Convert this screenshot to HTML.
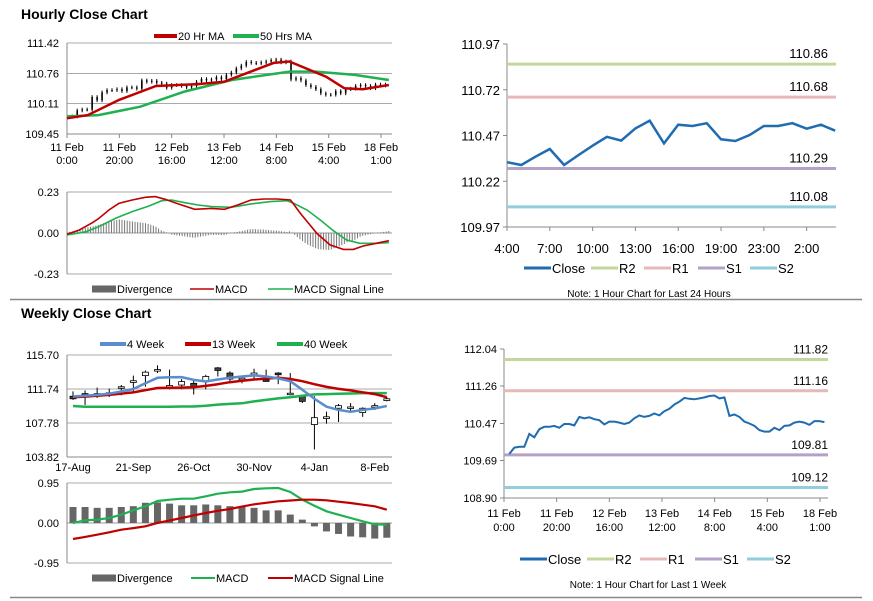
<!DOCTYPE html>
<html><head><meta charset="utf-8"><style>
html,body{margin:0;padding:0;background:#fff;}
svg{display:block;font-family:"Liberation Sans",Arial,sans-serif;}
.t{font-size:11px;fill:#000;}
.n{font-family:"Liberation Sans Narrow","Liberation Sans",sans-serif;font-size:13px;fill:#000;}
.h{font-size:14px;font-weight:bold;fill:#000;}
</style></head><body>
<svg id="root" width="873" height="601" viewBox="0 0 873 601" xmlns="http://www.w3.org/2000/svg">
<text x="21" y="19" class="h">Hourly Close Chart</text>
<text x="21" y="318" class="h">Weekly Close Chart</text>
<line x1="10" y1="299.5" x2="862" y2="299.5" stroke="#888" stroke-width="1.5"/>
<line x1="10" y1="597.5" x2="862" y2="597.5" stroke="#888" stroke-width="1.5"/>
<g id="g"></g>
</svg>
<script>
// ---- data ----
const hourlyClose=[109.83,109.96,109.98,109.98,110.25,110.18,110.35,110.40,110.40,110.42,110.38,110.46,110.46,110.43,110.61,110.58,110.60,110.56,110.54,110.45,110.51,110.51,110.49,110.46,110.49,110.58,110.64,110.61,110.63,110.68,110.64,110.73,110.78,110.87,110.93,111.01,110.99,110.98,111.00,111.02,111.05,111.06,111.00,111.02,110.63,110.66,110.61,110.51,110.47,110.42,110.33,110.30,110.30,110.38,110.33,110.42,110.43,110.49,110.51,110.49,110.44,110.52,110.52,110.50];
const hourTicks=["11 Feb|0:00","11 Feb|20:00","12 Feb|16:00","13 Feb|12:00","14 Feb|8:00","15 Feb|4:00","18 Feb|1:00"];
const ma20Hours=[0,8,20,34,50,60,79,85,99,106,113,123];
const ma20=[109.79,109.86,110.19,110.49,110.53,110.58,110.99,111.02,110.69,110.44,110.42,110.51];
const ma50Hours=[0,12,28,45,63,85,95,110,123];
const ma50=[109.83,109.86,110.04,110.37,110.62,110.80,110.80,110.73,110.62];
const macdHours=[0,4.7,9.7,12.2,16,19.8,24.9,29.9,33.7,37.5,42.5,48.8,55.1,60.2,65.2,70.3,75.3,80.4,85.4,89.2,95.5,100.5,105.6,109.4,113.2,118.2,123];
const macdH=[-0.007,0.017,0.058,0.082,0.129,0.166,0.185,0.200,0.204,0.189,0.163,0.133,0.138,0.133,0.157,0.185,0.191,0.191,0.185,0.110,-0.002,-0.067,-0.092,-0.092,-0.073,-0.058,-0.043];
const sigHours=[0,7.2,12.2,18.5,24.9,31.2,36.2,40,45,50.1,55.1,62.7,70.3,77.8,84.1,86.7,91.7,96.8,101.8,106.8,111.9,118.2,123];
const sigH=[-0.011,0.007,0.036,0.082,0.120,0.151,0.181,0.185,0.170,0.157,0.148,0.144,0.163,0.176,0.181,0.166,0.129,0.073,0.013,-0.039,-0.058,-0.058,-0.054];
const dayClose=[110.324,110.309,110.354,110.396,110.309,110.363,110.414,110.463,110.442,110.509,110.551,110.427,110.529,110.522,110.537,110.449,110.440,110.473,110.522,110.522,110.537,110.507,110.529,110.496];
const dayTicks=["4:00","7:00","10:00","13:00","16:00","19:00","23:00","2:00"];
const dayTickIdx=[0,3,6,9,12,15,18,21];
const dayLevels=[110.86,110.68,110.29,110.08];
const weekLevels=[111.82,111.16,109.81,109.12];
const levelNames=["R2","R1","S1","S2"];
const wOpen=[110.9,111.2,111.2,111.3,111.9,112.5,113.3,113.9,112.1,112.2,112.4,112.6,114.2,113.6,112.9,113.4,112.8,113.6,111.2,110.9,107.6,108.3,109.5,109.6,109.0,109.7,110.4];
const wClose=[110.6,111.1,111.2,111.3,112.0,112.7,113.7,114.0,112.15,112.6,112.0,113.2,113.9,112.9,113.0,113.6,112.7,113.4,111.25,110.3,108.4,108.5,109.8,109.65,109.5,109.8,110.6];
const wHigh=[111.46,111.58,111.9,111.8,112.2,113.3,113.9,114.5,114.0,112.9,112.9,113.4,114.3,113.8,113.2,114.1,114.0,113.7,113.6,111.0,110.9,109.1,110.0,110.1,109.6,110.1,110.8];
const wLow=[110.47,109.88,110.7,110.8,111.0,111.4,112.0,113.6,111.7,111.7,111.1,111.7,113.2,112.4,112.4,112.8,112.6,112.3,111.0,110.1,104.7,107.7,107.9,109.0,108.5,109.3,110.3];
const wk4=[110.87,110.95,111.05,111.19,111.45,111.74,112.4,113.05,113.1,113.13,112.8,112.61,112.85,113.05,113.2,113.32,113.2,112.97,112.65,111.66,110.6,109.68,109.3,109.09,109.3,109.48,109.76];
const wk13=[110.79,110.85,110.95,111.05,111.2,111.34,111.6,111.86,111.88,111.9,111.94,112.1,112.3,112.53,112.7,112.85,112.95,113.05,112.9,112.65,112.3,111.98,111.75,111.58,111.35,111.15,110.79];
const wk40=[109.76,109.68,109.68,109.68,109.68,109.68,109.68,109.68,109.68,109.7,109.7,109.8,109.92,110.0,110.08,110.3,110.47,110.65,110.79,110.95,111.11,111.15,111.19,111.22,111.26,111.26,111.26];
const wDiv=[0.38,0.38,0.36,0.36,0.38,0.40,0.48,0.49,0.46,0.42,0.42,0.44,0.42,0.40,0.38,0.36,0.30,0.30,0.20,0.08,-0.08,-0.20,-0.26,-0.32,-0.34,-0.37,-0.35];
const wMacd=[0,0.063,0.079,0.119,0.198,0.301,0.396,0.523,0.554,0.578,0.578,0.634,0.697,0.729,0.745,0.808,0.824,0.832,0.737,0.554,0.412,0.277,0.198,0.119,0.040,-0.032,-0.040];
const wSig=[-0.380,-0.33,-0.277,-0.22,-0.158,-0.12,-0.079,0,0.06,0.119,0.18,0.238,0.29,0.333,0.39,0.444,0.48,0.515,0.535,0.554,0.554,0.539,0.507,0.475,0.435,0.396,0.317];
const weekTicks=["17-Aug","21-Sep","26-Oct","30-Nov","4-Jan","8-Feb"];
const weekTickIdx=[0,5,10,15,20,25];

// ---- helpers ----
const NS="http://www.w3.org/2000/svg";
const G=document.getElementById('g');
function mk(tag,a){const e=document.createElementNS(NS,tag);for(const k in a)e.setAttribute(k,a[k]);G.appendChild(e);return e;}
function pts(xs,ys){return xs.map((x,i)=>x.toFixed(1)+','+ys[i].toFixed(1)).join(' ');}
function interp(hs,vs,h){for(let i=1;i<hs.length;i++){if(h<=hs[i]){const t=(h-hs[i-1])/(hs[i]-hs[i-1]);return vs[i-1]+t*(vs[i]-vs[i-1]);}}return vs[vs.length-1];}
const C={red:"#c00000",green:"#1fb050",blue:"#1f6cb0",lblue:"#5b8ccc",r2:"#c4d79b",r1:"#e6b9b8",s1:"#b3a2c7",s2:"#93cddd",grid:"#aaa",div:"#777"};
const lvlColors=[C.r2,C.r1,C.s1,C.s2];

// scales
const xH=h=>67+h*2.617;
const yP=v=>43+(111.42-v)/1.97*91;
const yM=v=>233-v/0.23*41;
const closeHour=k=>2+k*1.9;
const xR=i=>507+i*14.27;
const yR=v=>44+(110.97-v)*183;
const xB=h=>504+h*2.633;
const yB=v=>349+(112.04-v)/3.14*149;
const xW=i=>73+i*12.07;
const yW=v=>389+(111.74-v)*34/3.96;
const yWM=v=>523-v*42.1;

function hline(x1,x2,y,col,w){const e=mk('line',{x1:x1,x2:x2,y1:y,y2:y,stroke:col,'stroke-width':w||1});return e;}
function vline(x,y1,y2,col,w){const e=mk('line',{x1:x,x2:x,y1:y1,y2:y2,stroke:col,'stroke-width':w||1});return e;}
function txt(x,y,s,cls,anchor){const e=mk('text',{x:x,y:y,class:cls,'text-anchor':anchor||'start'});e.textContent=s;return e;}

// ===== Top-left price panel =====
[111.42,110.76,110.11].forEach(v=>{const e=hline(67,392,yP(v),C.grid);

});
["111.42","110.76","110.11","109.45"].forEach(s=>{const e=txt(59,yP(+s)+4,s,'t','end');

});
{const e=vline(67,43,134,'#888');

}
{const e=hline(67,392,134,'#888');

}
hourTicks.forEach((s,i)=>{const x=xH(i*20);const p=s.split('|');
const tk=vline(x,134,138,'#888');


const a=txt(x,151,p[0],'t','middle');


const b=txt(x,164,p[1],'t','middle');

});
// candles
hourlyClose.forEach((v,k)=>{const pv=k?hourlyClose[k-1]:v;const x=xH(closeHour(k));
const hi=Math.max(v,pv)+0.04,lo=Math.min(v,pv)-0.04;
const e=vline(x,yP(hi),yP(lo),'#000',1);


const f=mk('rect',{x:x-0.8,y:Math.min(yP(v),yP(pv)),width:1.6,height:Math.max(1,Math.abs(yP(v)-yP(pv))),fill:'#000'});

});
{const e=mk('polyline',{points:pts(ma50Hours.map(xH),ma50.map(yP)),fill:'none',stroke:C.green,'stroke-width':2.5});

}
{const e=mk('polyline',{points:pts(ma20Hours.map(xH),ma20.map(yP)),fill:'none',stroke:C.red,'stroke-width':2.5});

}
// legend
function legLine(x1,x2,y,col,w,label,name){
const l=mk('line',{x1:x1,x2:x2,y1:y,y2:y,stroke:col,'stroke-width':w});


const t=txt(x2+1,y+4,label,'t');

}
legLine(154,177,36,C.red,4,"20 Hr MA","legend-ma20");
legLine(233,259,36,C.green,4,"50 Hrs MA","legend-ma50");

// ===== Top-left MACD =====
[0.23,-0.23].forEach(v=>{const e=hline(67,392,yM(v),C.grid);

});
{const e=hline(67,392,yM(0),'#999');

}
{const e=vline(67,192,274,'#888');

}
["0.23","0.00","-0.23"].forEach(s=>{const e=txt(59,yM(+s)+4,s,'t','end');

});
for(let h=0;h<=123;h+=1){const d=interp(macdHours,macdH,h)-interp(sigHours,sigH,h);
const e=vline(xH(h),yM(0),yM(d),C.div,1);

}
{const e=mk('polyline',{points:pts(sigHours.map(xH),sigH.map(yM)),fill:'none',stroke:C.green,'stroke-width':1.6});

}
{const e=mk('polyline',{points:pts(macdHours.map(xH),macdH.map(yM)),fill:'none',stroke:C.red,'stroke-width':1.6});

}
legLine(92,116,289,'#666',7,"Divergence","legend-hourly-divergence");
legLine(190,214,289,C.red,1.6,"MACD","legend-hourly-macd");
legLine(268,293,289,C.green,1.6,"MACD Signal Line","legend-hourly-signal");

// ===== Top-right 24h =====
{const e=vline(507,44,227,'#888');

}
{const e=hline(507,836,227,'#888');

}
["110.97","110.72","110.47","110.22","109.97"].forEach(s=>{const e=txt(500,yR(+s)+5,s,'n','end');


const t=hline(503,507,yR(+s),'#888');

});
dayTicks.forEach((s,i)=>{const x=xR(dayTickIdx[i]);
const t=vline(x,227,231,'#888');


const e=txt(x,253,s,'n','middle');

});
dayLevels.forEach((v,i)=>{const e=hline(507,836,yR(v),lvlColors[i],3);


const t=txt(828,yR(v)-6,v.toFixed(2),'n','end');

});
{const e=mk('polyline',{points:pts(dayClose.map((v,i)=>xR(i)),dayClose.map(yR)),fill:'none',stroke:C.blue,'stroke-width':2.5});

}
function rightLegend(y,xs,note,noteX,pref){
const labels=["Close"].concat(levelNames);const cols=[C.blue].concat(lvlColors);
labels.forEach((s,i)=>{const l=mk('line',{x1:xs[i],x2:xs[i]+27,y1:y,y2:y,stroke:cols[i],'stroke-width':3});


const t=txt(xs[i]+28,y+5,s,'n');

});
const n=mk('text',{x:noteX,y:y+29,'text-anchor':'middle',style:'font-size:10px;font-family:"Liberation Sans Narrow","Liberation Sans",sans-serif'});
n.textContent=note;

}
rightLegend(268,[524,591,644,698,750],"Note: 1 Hour Chart for Last 24 Hours",649,'day');

// ===== Bottom-right week =====
{const e=vline(504,349,498,'#888');

}
{const e=hline(504,828,498,'#888');

}
["112.04","111.26","110.47","109.69","108.90"].forEach(s=>{const e=txt(497,yB(+s)+4,s,'t','end');


const t=hline(500,504,yB(+s),'#888');

});
hourTicks.forEach((s,i)=>{const x=xB(i*20);const p=s.split('|');
const tk=vline(x,498,502,'#888');


const a=txt(x,517,p[0],'t','middle');


const b=txt(x,531,p[1],'t','middle');

});
weekLevels.forEach((v,i)=>{const e=hline(504,828,yB(v),lvlColors[i],3);


const t=txt(828,yB(v)-6,v.toFixed(2),'t','end');
t.setAttribute('style','font-size:12px');

});
{const e=mk('polyline',{points:pts(hourlyClose.map((v,k)=>xB(closeHour(k))),hourlyClose.map(yB)),fill:'none',stroke:C.blue,'stroke-width':2});

}
rightLegend(559,[520,587,640,695,747],"Note: 1 Hour Chart for Last 1 Week",648,'week');

// ===== Bottom-left weekly candles =====
[115.70,111.74,107.78].forEach(v=>{const e=hline(67,392,yW(v),C.grid);

});
{const e=hline(67,392,yW(103.82),'#888');

}
{const e=vline(67,355,457,'#888');

}
["115.70","111.74","107.78","103.82"].forEach(s=>{const e=txt(59,yW(+s)+4,s,'t','end');

});
weekTicks.forEach((s,i)=>{const x=xW(weekTickIdx[i]);
const e=txt(x,471,s,'t','middle');

});
wOpen.forEach((o,i)=>{const c=wClose[i],x=xW(i);
const w=vline(x,yW(wHigh[i]),yW(wLow[i]),'#000',1);


const top=yW(Math.max(o,c)),bh=Math.max(1.5,Math.abs(yW(o)-yW(c)));
const b=mk('rect',{x:x-3,y:top,width:6,height:bh,fill:c>=o?'#fff':'#444',stroke:'#000','stroke-width':0.8});

});
[[wk40,C.green,'ma-40-week-line'],[wk13,C.red,'ma-13-week-line'],[wk4,C.lblue,'ma-4-week-line']].forEach(s=>{
const e=mk('polyline',{points:pts(s[0].map((v,i)=>xW(i)),s[0].map(yW)),fill:'none',stroke:s[1],'stroke-width':2.5,'stroke-linejoin':'round'});

});
legLine(100,126,344,C.lblue,4,"4 Week","legend-4-week");
legLine(185,211,344,C.red,4,"13 Week","legend-13-week");
legLine(277,303,344,C.green,4,"40 Week","legend-40-week");

// ===== Bottom-left weekly MACD =====
[0.95,-0.95].forEach(v=>{const e=hline(67,392,yWM(v),C.grid);

});
{const e=hline(67,392,yWM(0),'#999');

}
{const e=vline(67,483,563,'#888');

}
["0.95","0.00","-0.95"].forEach(s=>{const e=txt(59,yWM(+s)+4,s,'t','end');

});
wDiv.forEach((d,i)=>{const y0=yWM(0),y1=yWM(d);
const e=mk('rect',{x:xW(i)-3.5,y:Math.min(y0,y1),width:7,height:Math.abs(y1-y0),fill:'#666'});

});
{const e=mk('polyline',{points:pts(wMacd.map((v,i)=>xW(i)),wMacd.map(yWM)),fill:'none',stroke:C.green,'stroke-width':2.2});

}
{const e=mk('polyline',{points:pts(wSig.map((v,i)=>xW(i)),wSig.map(yWM)),fill:'none',stroke:C.red,'stroke-width':2.2});

}
legLine(92,116,578,'#666',7,"Divergence","legend-weekly-divergence");
legLine(191,215,578,C.green,2,"MACD","legend-weekly-macd");
legLine(268,293,578,C.red,2,"MACD Signal Line","legend-weekly-signal");
</script>
</body></html>
